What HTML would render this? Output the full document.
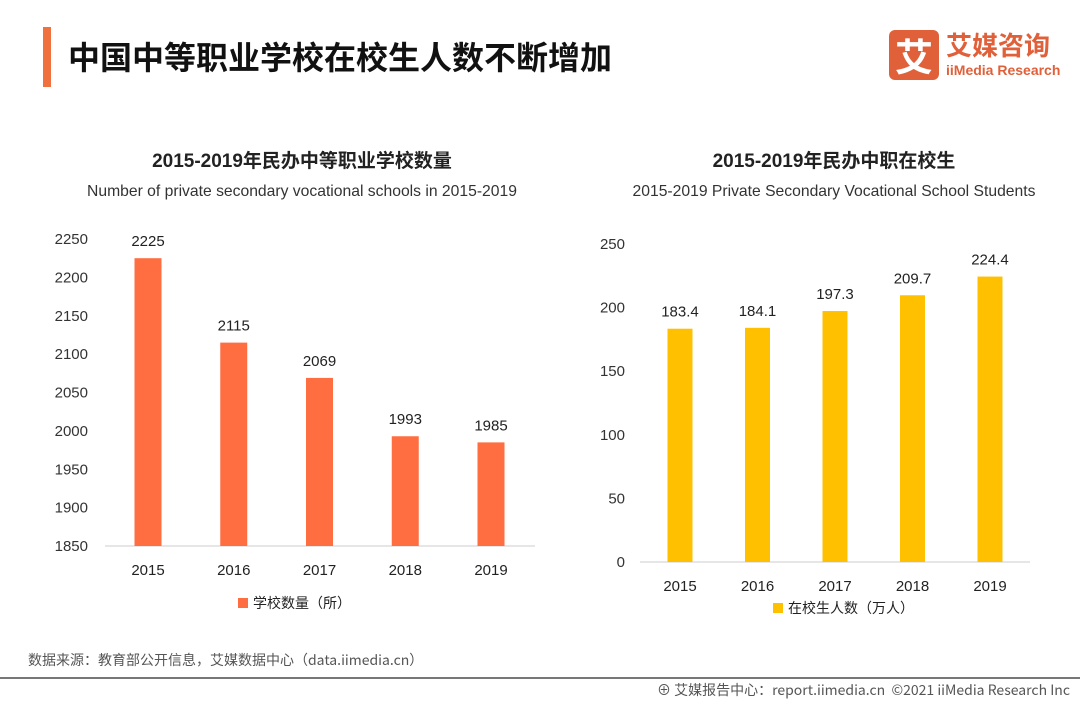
<!DOCTYPE html>
<html><head><meta charset="utf-8"><style>
body{margin:0;width:1080px;height:702px;background:#fff;font-family:"Liberation Sans","Noto Sans CJK SC",sans-serif;overflow:hidden;position:relative}
.abs{position:absolute}
</style></head><body>
<div class="abs" style="left:43px;top:27px;width:8px;height:60px;background:#f07040"></div>
<div class="abs" style="left:68px;top:33px;font-size:32px;font-weight:bold;color:#111;font-family:'Noto Sans CJK SC',sans-serif">中国中等职业学校在校生人数不断增加</div>
<div class="abs" style="left:889px;top:30px;width:50px;height:50px;background:#e0603a;border-radius:6px;color:#fff;font-size:38px;font-weight:bold;text-align:center;line-height:50px;font-family:'Noto Sans CJK SC',sans-serif">艾</div>
<div class="abs" style="left:946px;top:28px;color:#e0603a;font-size:26px;font-weight:bold;font-family:'Noto Sans CJK SC',sans-serif;line-height:34px">艾媒咨询</div>
<div class="abs" style="left:946px;top:62px;color:#e0603a;font-size:14px;font-weight:bold">iiMedia Research</div>
<svg class="abs" style="left:0;top:0" width="1080" height="702">
<g id="left"></g>
<g id="right"></g>
</svg>
<div class="abs" style="left:28px;top:650px;font-size:14px;color:#555;font-family:'Noto Sans CJK SC',sans-serif">数据来源：教育部公开信息，艾媒数据中心（data.iimedia.cn）</div>
<div class="abs" style="left:0;top:677px;width:1080px;height:2px;background:#777"></div>
<div class="abs" style="right:10px;top:680px;font-size:14px;color:#555;font-family:'Noto Sans CJK SC',sans-serif">⊕ 艾媒报告中心：report.iimedia.cn &nbsp;©2021 iiMedia Research Inc</div>
<script>
const leftCats=['2015','2016','2017','2018','2019'];
const leftVals=[2225,2115,2069,1993,1985];
const leftTicks=[1850,1900,1950,2000,2050,2100,2150,2200,2250];
const rightCats=['2015','2016','2017','2018','2019'];
const rightVals=[183.4,184.1,197.3,209.7,224.4];
const rightTicks=[0,50,100,150,200,250];
const NS='http://www.w3.org/2000/svg';
function mk(p,t,a,txt){const e=document.createElementNS(NS,t);for(const k in a)e.setAttribute(k,a[k]);if(txt!=null)e.textContent=txt;p.appendChild(e);return e;}
function chart(g,o){
 const y=v=>o.y0-(v-o.min)/(o.max-o.min)*(o.y0-o.y1);
 let t=mk(g,'text',{x:o.cx,y:o.ty,'text-anchor':'middle','font-size':19,'font-weight':'bold',fill:'#222'},o.title);
 
 t=mk(g,'text',{x:o.cx,y:o.ty+29,'text-anchor':'middle','font-size':15.7,fill:'#333'},o.sub);
 
 o.ticks.forEach(v=>{const e=mk(g,'text',{x:o.tx,y:y(v)+5,'text-anchor':'end','font-size':15,fill:'#333'},v);
  });
 const l=mk(g,'line',{x1:o.ax0,x2:o.ax1,y1:o.y0,y2:o.y0,stroke:'#ccc'});
 
 o.cats.forEach((c,i)=>{const cx=o.bx0+i*o.step,v=o.vals[i];
  const r=mk(g,'rect',{x:cx-o.bw/2,y:y(v),width:o.bw,height:o.y0-y(v),fill:o.color});
  
  const vl=mk(g,'text',{x:cx,y:y(v)-12,'text-anchor':'middle','font-size':15,fill:'#222'},v);
  
  const xl=mk(g,'text',{x:cx,y:o.y0+29,'text-anchor':'middle','font-size':15,fill:'#222'},c);
  });
 const s=mk(g,'rect',{x:o.lx,y:o.ly-10,width:10,height:10,fill:o.color});
 
 const lt=mk(g,'text',{x:o.lx+15,y:o.ly,'font-size':14,fill:'#222'},o.legend);
 
}
chart(document.getElementById('left'),{cats:leftCats,vals:leftVals,ticks:leftTicks,min:1850,max:2250,y0:546,y1:239,tx:88,ax0:105,ax1:535,bx0:148,step:85.75,bw:27,color:'#ff6e40',cx:302,ty:167,title:'2015-2019年民办中等职业学校数量',sub:'Number of private secondary vocational schools in 2015-2019',lx:238,ly:608,legend:'学校数量（所）'});
chart(document.getElementById('right'),{cats:rightCats,vals:rightVals,ticks:rightTicks,min:0,max:250,y0:562,y1:244,tx:625,ax0:640,ax1:1030,bx0:680,step:77.5,bw:25,color:'#ffc000',cx:834,ty:167,title:'2015-2019年民办中职在校生',sub:'2015-2019 Private Secondary Vocational School Students',lx:773,ly:613,legend:'在校生人数（万人）'});
</script>
</body></html>
